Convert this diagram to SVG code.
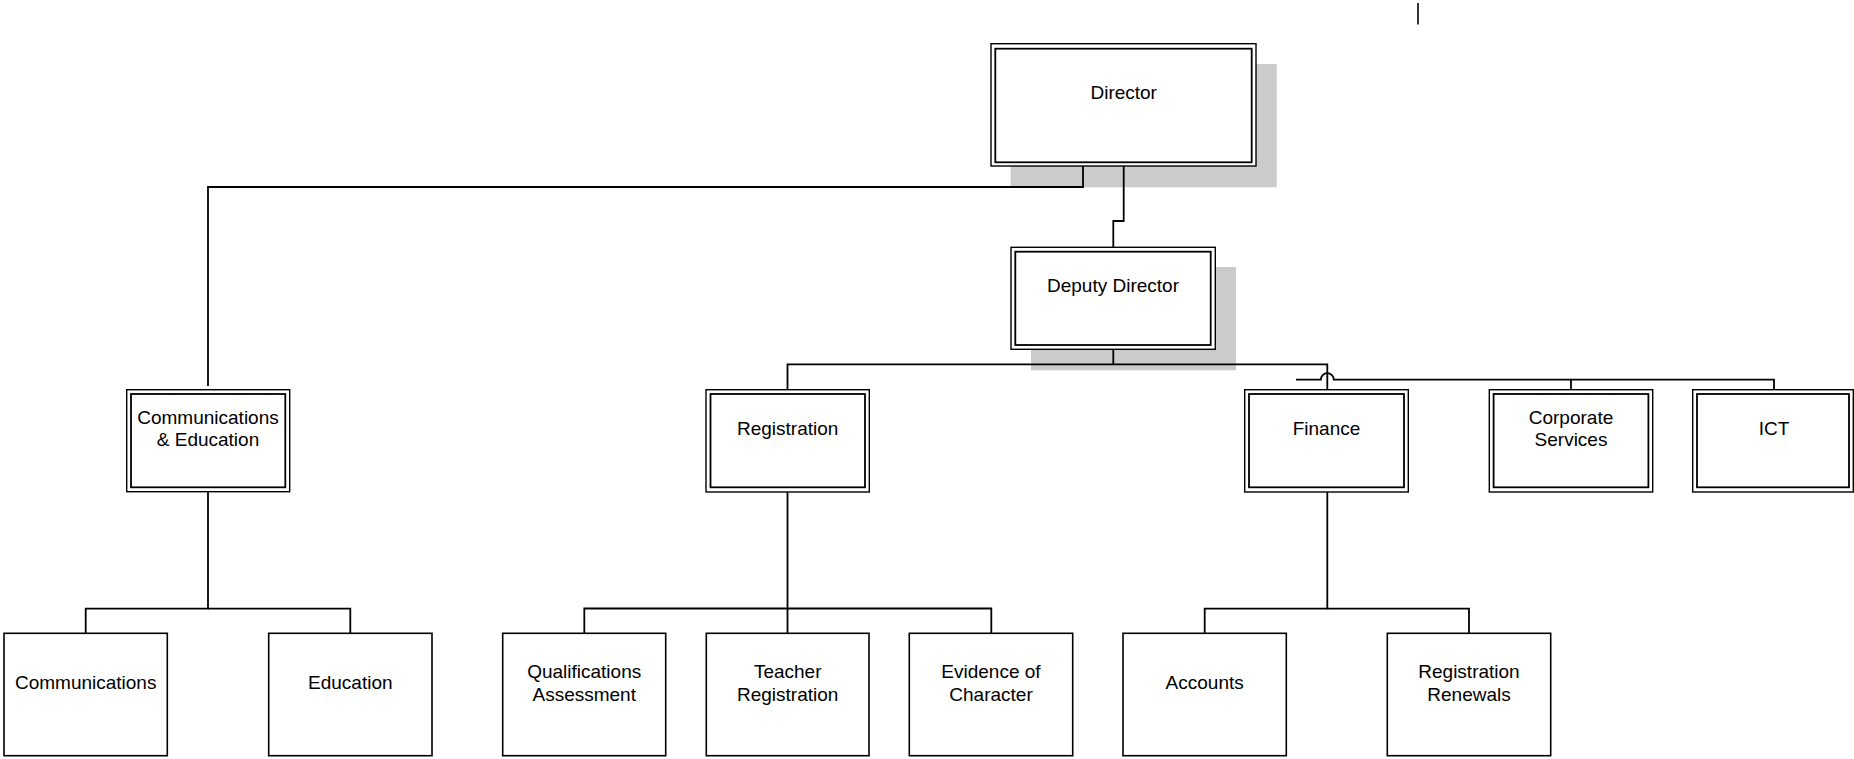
<svg xmlns="http://www.w3.org/2000/svg" width="1854" height="759" viewBox="0 0 1854 759">
<style>
  .bg { fill: #ffffff; }
  .shadow { fill: #cbcbcb; stroke: none; }
  .outer { fill: #ffffff; stroke: #000000; stroke-width: 1.4; }
  .inner { fill: none; stroke: #000000; stroke-width: 1.8; }
  .single { fill: #ffffff; stroke: #000000; stroke-width: 1.6; }
  .conn { fill: none; stroke: #000000; stroke-width: 1.8; }
  .lbl { font-family: "Liberation Sans", Arial, sans-serif; font-size: 19px; fill: #000000; text-anchor: middle; }
</style>
<rect class="bg" x="0" y="0" width="1854" height="759"/>
<line x1="1418" y1="3" x2="1418" y2="24.5" stroke="#000" stroke-width="1.6"/>

<g id="director">
  <rect class="shadow" x="1010.7" y="64" width="266" height="123.3"/>
  <rect class="outer" x="991" y="43.7" width="265" height="122.3"/>
  <rect class="inner" x="995.3" y="48.7" width="256.4" height="113.6"/>
  <text class="lbl" x="1123.7" y="99">Director</text>
</g>

<g id="deputy-director">
  <rect class="shadow" x="1031" y="267" width="205" height="103.3"/>
  <rect class="outer" x="1011" y="247.3" width="204.3" height="102"/>
  <rect class="inner" x="1015.3" y="251.7" width="195.4" height="93.3"/>
  <text class="lbl" x="1113" y="292">Deputy Director</text>
</g>

<g id="connectors">
  <path class="conn" d="M1083 166 V187 H208 V386"/>
  <path class="conn" d="M1123.7 166 V221 H1113.3 V247.3"/>
  <path class="conn" d="M1113.3 349.3 V364.3 H787.5 V389.7"/>
  <path class="conn" d="M1113.3 364.3 H1327.3 V389.7"/>
  <path class="conn" d="M1296 379.7 H1320.8 A6.5 6.5 0 0 1 1333.8 379.7 H1774 V389.7"/>
  <path class="conn" d="M1571 379.7 V389.7"/>
  <path class="conn" d="M208 492 V608.7 H85.7 V633.3"/>
  <path class="conn" d="M208 608.7 H350.3 V633.3"/>
  <path class="conn" d="M787.5 492 V633.3"/>
  <path class="conn" d="M584.3 633.3 V608.5 H991.3 V633.3"/>
  <path class="conn" d="M1327.3 492 V608.7 H1204.7 V633.3"/>
  <path class="conn" d="M1327.3 608.7 H1469 V633.3"/>
</g>

<g id="communications-education">
  <rect class="outer" x="126.7" y="389.7" width="163" height="102"/>
  <rect class="inner" x="131" y="394" width="154.3" height="93.3"/>
  <text class="lbl" x="208" y="423.5">Communications</text>
  <text class="lbl" x="208" y="445.5">&amp; Education</text>
</g>

<g id="registration">
  <rect class="outer" x="706" y="389.7" width="163.3" height="102.3"/>
  <rect class="inner" x="710.5" y="394" width="154.5" height="93.3"/>
  <text class="lbl" x="787.7" y="435">Registration</text>
</g>

<g id="finance">
  <rect class="outer" x="1244.7" y="389.7" width="163.6" height="102.3"/>
  <rect class="inner" x="1249" y="394" width="155" height="93.3"/>
  <text class="lbl" x="1326.5" y="435">Finance</text>
</g>

<g id="corporate-services">
  <rect class="outer" x="1489.3" y="389.7" width="163.4" height="102.3"/>
  <rect class="inner" x="1493.6" y="394" width="154.8" height="93.3"/>
  <text class="lbl" x="1571" y="423.5">Corporate</text>
  <text class="lbl" x="1571" y="446">Services</text>
</g>

<g id="ict">
  <rect class="outer" x="1692.7" y="389.7" width="160.6" height="102.3"/>
  <rect class="inner" x="1697" y="394" width="152" height="93.3"/>
  <text class="lbl" x="1774" y="435">ICT</text>
</g>

<g id="communications">
  <rect class="single" x="4" y="633.3" width="163.3" height="122.4"/>
  <text class="lbl" x="85.7" y="689">Communications</text>
</g>

<g id="education">
  <rect class="single" x="268.7" y="633.3" width="163.3" height="122.4"/>
  <text class="lbl" x="350.3" y="689">Education</text>
</g>

<g id="qualifications-assessment">
  <rect class="single" x="502.7" y="633.3" width="163" height="122.4"/>
  <text class="lbl" x="584.2" y="677.5">Qualifications</text>
  <text class="lbl" x="584.2" y="701">Assessment</text>
</g>

<g id="teacher-registration">
  <rect class="single" x="706.3" y="633.3" width="162.7" height="122.4"/>
  <text class="lbl" x="787.7" y="677.5">Teacher</text>
  <text class="lbl" x="787.7" y="701">Registration</text>
</g>

<g id="evidence-of-character">
  <rect class="single" x="909.3" y="633.3" width="163.4" height="122.4"/>
  <text class="lbl" x="991" y="677.5">Evidence of</text>
  <text class="lbl" x="991" y="700.5">Character</text>
</g>

<g id="accounts">
  <rect class="single" x="1123" y="633.3" width="163.3" height="122.4"/>
  <text class="lbl" x="1204.7" y="689">Accounts</text>
</g>

<g id="registration-renewals">
  <rect class="single" x="1387.3" y="633.3" width="163.4" height="122.4"/>
  <text class="lbl" x="1469" y="677.5">Registration</text>
  <text class="lbl" x="1469" y="701">Renewals</text>
</g>
</svg>
